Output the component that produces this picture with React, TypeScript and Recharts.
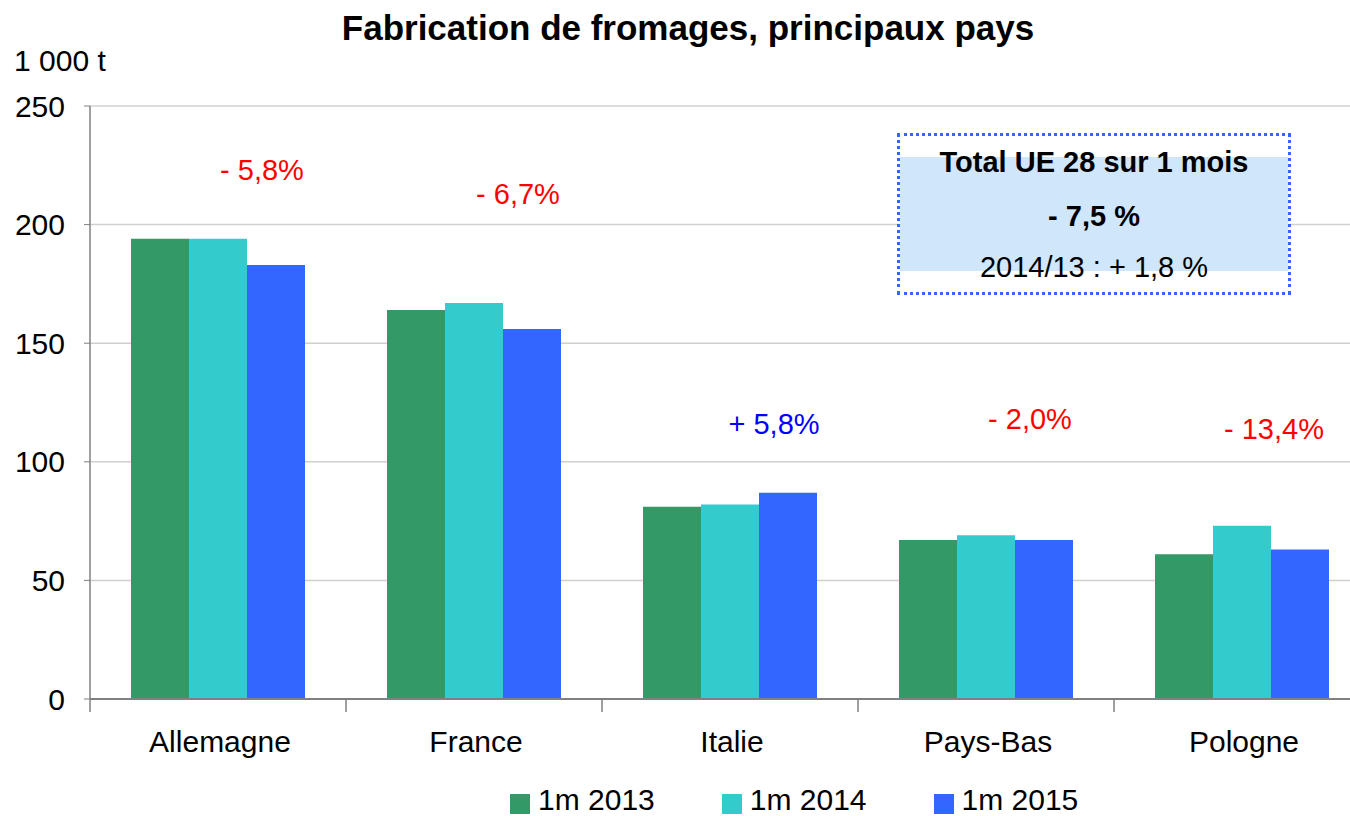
import { BarChart, Bar, XAxis, YAxis, CartesianGrid, ReferenceDot } from 'recharts';

const countries = ['Allemagne', 'France', 'Italie', 'Pays-Bas', 'Pologne'];
const values2013 = [194, 164, 81, 67, 61];
const values2014 = [194, 167, 82, 69, 73];
const values2015 = [183, 156, 87, 67, 63];
const yTicks = [0, 50, 100, 150, 200, 250];

// evolution 2015/2014, shown above each group
const changeLabels = ['- 5,8%', '- 6,7%', '+ 5,8%', '- 2,0%', '- 13,4%'];
const changeLabelY = [222, 212, 115, 117, 113];
const changeColors = ['#ff0000', '#ff0000', '#0000ff', '#ff0000', '#ff0000'];

const seriesNames = ['1m 2013', '1m 2014', '1m 2015'];
const seriesColors = ['#339966', '#33cccc', '#3366ff'];

const data = countries.map((name, i) => ({
  name,
  y2013: values2013[i],
  y2014: values2014[i],
  y2015: values2015[i],
}));

const FONT = "Arial, 'Liberation Sans', sans-serif";

const CountryTick = ({ x, y, payload, width }: any) => {
  const half = (width ?? 1280) / countries.length / 2;
  return (
    <g>
      <line x1={x - half} y1={y - 8} x2={x - half} y2={y + 5} stroke="#808080" strokeWidth={1.5} />
      <text x={x + 2} y={y + 37} textAnchor="middle" dominantBaseline="middle" fontSize={30} fontFamily={FONT} fill="#000">
        {payload.value}
      </text>
    </g>
  );
};

export default function App() {
  return (
    <div style={{ position: 'fixed', top: 0, left: 0, width: 1350, height: 816, overflow: 'hidden', background: '#fff', fontFamily: FONT }}>
      <div style={{ position: 'absolute', top: 8, left: 0, width: 1376, textAlign: 'center', fontSize: 35, fontWeight: 'bold', whiteSpace: 'nowrap' }}>
        Fabrication de fromages, principaux pays
      </div>
      <div style={{ position: 'absolute', top: 44, left: 14, fontSize: 30 }}>1 000 t</div>

      <BarChart
        width={1400}
        height={816}
        data={data}
        margin={{ top: 106, right: 30, left: 0, bottom: 57 }}
        barGap={0}
        barCategoryGap={41}
      >
        <CartesianGrid vertical={false} stroke="#d0d0d0" strokeWidth={1.5} />
        <XAxis
          dataKey="name"
          height={60}
          axisLine={{ stroke: '#808080', strokeWidth: 2 }}
          tickLine={false}
          tick={<CountryTick />}
          interval={0}
        />
        <YAxis
          width={90}
          domain={[0, 250]}
          ticks={yTicks}
          axisLine={{ stroke: '#808080', strokeWidth: 1.5 }}
          tickLine={{ stroke: '#808080' }}
          tickSize={6}
          tickMargin={19}
          tick={{ fontSize: 30, fill: '#000', fontFamily: FONT }}
        />
        <Bar dataKey="y2013" fill={seriesColors[0]} isAnimationActive={false} />
        <Bar dataKey="y2014" fill={seriesColors[1]} isAnimationActive={false} />
        <Bar dataKey="y2015" fill={seriesColors[2]} isAnimationActive={false} />
        {countries.map((c, i) => (
          <ReferenceDot
            key={c}
            x={c}
            y={changeLabelY[i]}
            r={0}
            shape={(p: any) => (
              <text x={p.cx + (i === 4 ? 32 : 44)} y={p.cy} textAnchor="middle" dominantBaseline="middle" fontSize={29} fontFamily={FONT} fill={changeColors[i]}>
                {changeLabels[i]}
              </text>
            )}
          />
        ))}
      </BarChart>

      <div style={{ position: 'absolute', left: 897, top: 133, width: 394, height: 162, border: '3px dotted #3366ff', boxSizing: 'border-box' }}>
        <div style={{ position: 'absolute', left: 0, right: 0, top: 21, height: 114, background: '#d0e6fb' }} />
        <div style={{ position: 'absolute', left: 0, right: 0, top: 10, textAlign: 'center', fontSize: 29, fontWeight: 'bold', whiteSpace: 'nowrap' }}>Total UE 28 sur 1 mois</div>
        <div style={{ position: 'absolute', left: 0, right: 0, top: 64, textAlign: 'center', fontSize: 29, fontWeight: 'bold' }}>- 7,5 %</div>
        <div style={{ position: 'absolute', left: 0, right: 0, top: 115, textAlign: 'center', fontSize: 29, whiteSpace: 'nowrap' }}>2014/13 : + 1,8 %</div>
      </div>

      <div style={{ position: 'absolute', left: 510, top: 783, display: 'flex', alignItems: 'center', gap: 67, fontSize: 30 }}>
        {seriesNames.map((n, i) => (
          <div key={n} style={{ display: 'flex', alignItems: 'center', gap: 8 }}>
            <span style={{ display: 'inline-block', width: 20, height: 20, background: seriesColors[i], marginTop: 8 }} />
            <span>{n}</span>
          </div>
        ))}
      </div>
    </div>
  );
}
